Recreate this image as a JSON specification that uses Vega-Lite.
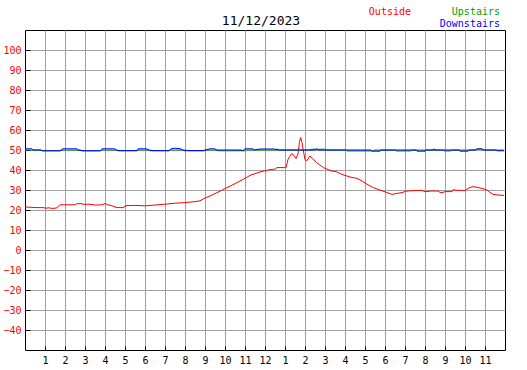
{
  "$schema": "https://vega.github.io/schema/vega-lite/v6.json",
  "width": 480,
  "height": 320,
  "autosize": {"type": "none"},
  "padding": {"left": 25, "top": 30, "right": 22, "bottom": 20},
  "background": "white",
  "title": {"text": "11/12/2023", "frame": "group", "font": "DejaVu Sans Mono", "fontSize": 13, "fontWeight": "normal", "color": "black", "anchor": "middle", "dx": -4, "baseline": "alphabetic", "offset": -31},
  "config": {
    "view": {"stroke": "black", "strokeWidth": 1},
    "axis": {"gridColor": "#a0a0a0", "gridOpacity": 1, "gridWidth": 1, "domain": false, "tickColor": "black", "labelFont": "DejaVu Sans Mono", "labelFontSize": 10, "labelFontWeight": "normal", "title": null, "labelOverlap": false, "labelFlush": false}
  },
  "datasets": {
    "temps": [
      {"h":0,"v":21.5,"s":"Outside"},{"h":0.25,"v":21.4,"s":"Outside"},{"h":0.5,"v":21.2,"s":"Outside"},{"h":0.9,"v":21.2,"s":"Outside"},{"h":1.05,"v":20.9,"s":"Outside"},{"h":1.2,"v":21.1,"s":"Outside"},{"h":1.35,"v":20.8,"s":"Outside"},{"h":1.5,"v":20.9,"s":"Outside"},{"h":1.6,"v":21.1,"s":"Outside"},{"h":1.75,"v":22.6,"s":"Outside"},{"h":2.0,"v":22.6,"s":"Outside"},{"h":2.5,"v":22.6,"s":"Outside"},{"h":2.6,"v":23.2,"s":"Outside"},{"h":2.85,"v":23.2,"s":"Outside"},{"h":2.9,"v":22.8,"s":"Outside"},{"h":3.2,"v":22.9,"s":"Outside"},{"h":3.5,"v":22.5,"s":"Outside"},{"h":3.7,"v":22.5,"s":"Outside"},{"h":3.85,"v":22.6,"s":"Outside"},{"h":4.0,"v":23.2,"s":"Outside"},{"h":4.15,"v":22.6,"s":"Outside"},{"h":4.4,"v":21.9,"s":"Outside"},{"h":4.6,"v":21.2,"s":"Outside"},{"h":4.9,"v":21.2,"s":"Outside"},{"h":5.05,"v":22.2,"s":"Outside"},{"h":5.5,"v":22.3,"s":"Outside"},{"h":6.0,"v":22.1,"s":"Outside"},{"h":6.5,"v":22.5,"s":"Outside"},{"h":7.0,"v":22.9,"s":"Outside"},{"h":7.5,"v":23.4,"s":"Outside"},{"h":8.0,"v":23.7,"s":"Outside"},{"h":8.5,"v":24.2,"s":"Outside"},{"h":8.75,"v":24.6,"s":"Outside"},{"h":9.0,"v":26.0,"s":"Outside"},{"h":9.25,"v":27.0,"s":"Outside"},{"h":9.5,"v":28.2,"s":"Outside"},{"h":9.75,"v":29.4,"s":"Outside"},{"h":10.0,"v":30.7,"s":"Outside"},{"h":10.25,"v":31.9,"s":"Outside"},{"h":10.5,"v":33.2,"s":"Outside"},{"h":10.75,"v":34.5,"s":"Outside"},{"h":11.0,"v":35.8,"s":"Outside"},{"h":11.25,"v":37.3,"s":"Outside"},{"h":11.5,"v":38.2,"s":"Outside"},{"h":11.75,"v":39.0,"s":"Outside"},{"h":12.0,"v":39.6,"s":"Outside"},{"h":12.25,"v":40.2,"s":"Outside"},{"h":12.5,"v":40.4,"s":"Outside"},{"h":12.6,"v":41.2,"s":"Outside"},{"h":13.05,"v":41.2,"s":"Outside"},{"h":13.15,"v":45.3,"s":"Outside"},{"h":13.33,"v":48.2,"s":"Outside"},{"h":13.45,"v":47.3,"s":"Outside"},{"h":13.55,"v":45.7,"s":"Outside"},{"h":13.65,"v":48.0,"s":"Outside"},{"h":13.72,"v":53.7,"s":"Outside"},{"h":13.78,"v":56.3,"s":"Outside"},{"h":13.85,"v":53.7,"s":"Outside"},{"h":13.92,"v":49.5,"s":"Outside"},{"h":14.0,"v":45.3,"s":"Outside"},{"h":14.08,"v":44.5,"s":"Outside"},{"h":14.25,"v":47.0,"s":"Outside"},{"h":14.37,"v":45.7,"s":"Outside"},{"h":14.58,"v":43.7,"s":"Outside"},{"h":14.92,"v":41.2,"s":"Outside"},{"h":15.33,"v":39.5,"s":"Outside"},{"h":15.55,"v":39.2,"s":"Outside"},{"h":15.85,"v":37.8,"s":"Outside"},{"h":16.25,"v":36.5,"s":"Outside"},{"h":16.6,"v":35.8,"s":"Outside"},{"h":16.85,"v":34.5,"s":"Outside"},{"h":17.1,"v":32.9,"s":"Outside"},{"h":17.4,"v":31.2,"s":"Outside"},{"h":17.75,"v":30.0,"s":"Outside"},{"h":18.1,"v":28.7,"s":"Outside"},{"h":18.35,"v":27.8,"s":"Outside"},{"h":18.6,"v":28.3,"s":"Outside"},{"h":18.85,"v":28.7,"s":"Outside"},{"h":19.05,"v":29.4,"s":"Outside"},{"h":19.25,"v":29.6,"s":"Outside"},{"h":19.85,"v":29.8,"s":"Outside"},{"h":20.0,"v":29.2,"s":"Outside"},{"h":20.15,"v":29.2,"s":"Outside"},{"h":20.25,"v":29.5,"s":"Outside"},{"h":20.65,"v":29.5,"s":"Outside"},{"h":20.75,"v":28.8,"s":"Outside"},{"h":20.9,"v":28.8,"s":"Outside"},{"h":21.0,"v":29.2,"s":"Outside"},{"h":21.35,"v":29.2,"s":"Outside"},{"h":21.4,"v":30.1,"s":"Outside"},{"h":21.65,"v":29.8,"s":"Outside"},{"h":22.0,"v":29.8,"s":"Outside"},{"h":22.15,"v":30.8,"s":"Outside"},{"h":22.35,"v":31.6,"s":"Outside"},{"h":22.5,"v":31.6,"s":"Outside"},{"h":22.65,"v":31.2,"s":"Outside"},{"h":22.85,"v":30.8,"s":"Outside"},{"h":23.1,"v":30.0,"s":"Outside"},{"h":23.25,"v":28.8,"s":"Outside"},{"h":23.4,"v":27.8,"s":"Outside"},{"h":23.75,"v":27.4,"s":"Outside"},{"h":23.95,"v":27.3,"s":"Outside"},

      {"h":0,"v":50,"s":"Upstairs"},{"h":0.8,"v":50,"s":"Upstairs"},{"h":0.85,"v":49.6,"s":"Upstairs"},{"h":1.8,"v":49.6,"s":"Upstairs"},{"h":1.85,"v":50,"s":"Upstairs"},{"h":2.8,"v":50,"s":"Upstairs"},{"h":2.85,"v":49.6,"s":"Upstairs"},{"h":3.8,"v":49.6,"s":"Upstairs"},{"h":3.85,"v":50,"s":"Upstairs"},{"h":4.6,"v":50,"s":"Upstairs"},{"h":4.65,"v":49.6,"s":"Upstairs"},{"h":5.6,"v":49.6,"s":"Upstairs"},{"h":5.65,"v":50,"s":"Upstairs"},{"h":6.2,"v":50,"s":"Upstairs"},{"h":6.25,"v":49.6,"s":"Upstairs"},{"h":7.2,"v":49.6,"s":"Upstairs"},{"h":7.25,"v":50,"s":"Upstairs"},{"h":7.9,"v":50,"s":"Upstairs"},{"h":7.95,"v":49.6,"s":"Upstairs"},{"h":9.0,"v":49.6,"s":"Upstairs"},{"h":9.05,"v":50,"s":"Upstairs"},{"h":9.6,"v":50,"s":"Upstairs"},{"h":9.65,"v":49.6,"s":"Upstairs"},{"h":11.0,"v":49.6,"s":"Upstairs"},{"h":11.05,"v":50,"s":"Upstairs"},{"h":14.25,"v":50,"s":"Upstairs"},{"h":14.3,"v":50.4,"s":"Upstairs"},{"h":15.0,"v":50.4,"s":"Upstairs"},{"h":15.05,"v":50,"s":"Upstairs"},{"h":16.05,"v":50,"s":"Upstairs"},{"h":16.1,"v":49.5,"s":"Upstairs"},{"h":17.4,"v":49.5,"s":"Upstairs"},{"h":17.45,"v":50,"s":"Upstairs"},{"h":18.5,"v":50,"s":"Upstairs"},{"h":18.55,"v":49.5,"s":"Upstairs"},{"h":19.3,"v":49.5,"s":"Upstairs"},{"h":19.35,"v":50,"s":"Upstairs"},{"h":20.9,"v":50,"s":"Upstairs"},{"h":20.95,"v":49.5,"s":"Upstairs"},{"h":21.3,"v":49.5,"s":"Upstairs"},{"h":21.35,"v":50,"s":"Upstairs"},{"h":22.5,"v":50,"s":"Upstairs"},{"h":22.55,"v":50.4,"s":"Upstairs"},{"h":22.9,"v":50.4,"s":"Upstairs"},{"h":22.95,"v":50,"s":"Upstairs"},{"h":23.95,"v":50,"s":"Upstairs"},

      {"h":0,"v":50.6,"s":"Downstairs"},{"h":0.35,"v":50.6,"s":"Downstairs"},{"h":0.4,"v":50,"s":"Downstairs"},{"h":0.8,"v":50,"s":"Downstairs"},{"h":0.85,"v":49.6,"s":"Downstairs"},{"h":1.75,"v":49.6,"s":"Downstairs"},{"h":1.8,"v":50,"s":"Downstairs"},{"h":1.9,"v":50.6,"s":"Downstairs"},{"h":2.6,"v":50.6,"s":"Downstairs"},{"h":2.65,"v":50,"s":"Downstairs"},{"h":2.85,"v":49.6,"s":"Downstairs"},{"h":3.75,"v":49.6,"s":"Downstairs"},{"h":3.85,"v":50.6,"s":"Downstairs"},{"h":4.5,"v":50.6,"s":"Downstairs"},{"h":4.55,"v":50,"s":"Downstairs"},{"h":4.7,"v":49.7,"s":"Downstairs"},{"h":5.6,"v":49.7,"s":"Downstairs"},{"h":5.65,"v":50.6,"s":"Downstairs"},{"h":6.1,"v":50.6,"s":"Downstairs"},{"h":6.15,"v":50,"s":"Downstairs"},{"h":6.4,"v":49.7,"s":"Downstairs"},{"h":7.2,"v":49.7,"s":"Downstairs"},{"h":7.3,"v":50.6,"s":"Downstairs"},{"h":7.5,"v":50.9,"s":"Downstairs"},{"h":7.8,"v":50.6,"s":"Downstairs"},{"h":7.85,"v":50,"s":"Downstairs"},{"h":8.25,"v":49.7,"s":"Downstairs"},{"h":8.9,"v":49.7,"s":"Downstairs"},{"h":9.0,"v":50,"s":"Downstairs"},{"h":9.25,"v":50.6,"s":"Downstairs"},{"h":9.5,"v":50.6,"s":"Downstairs"},{"h":9.55,"v":50,"s":"Downstairs"},{"h":10.8,"v":50,"s":"Downstairs"},{"h":10.9,"v":49.7,"s":"Downstairs"},{"h":11.0,"v":50.6,"s":"Downstairs"},{"h":11.4,"v":50.6,"s":"Downstairs"},{"h":11.45,"v":50,"s":"Downstairs"},{"h":11.75,"v":50.5,"s":"Downstairs"},{"h":12.5,"v":50.5,"s":"Downstairs"},{"h":12.55,"v":50,"s":"Downstairs"},{"h":12.6,"v":50.6,"s":"Downstairs"},{"h":12.65,"v":50,"s":"Downstairs"},{"h":14.5,"v":50,"s":"Downstairs"},{"h":14.6,"v":50.6,"s":"Downstairs"},{"h":14.65,"v":50,"s":"Downstairs"},{"h":17.3,"v":50,"s":"Downstairs"},{"h":17.35,"v":49.4,"s":"Downstairs"},{"h":17.75,"v":49.4,"s":"Downstairs"},{"h":17.8,"v":50,"s":"Downstairs"},{"h":19.55,"v":50,"s":"Downstairs"},{"h":19.6,"v":49.4,"s":"Downstairs"},{"h":20.0,"v":49.4,"s":"Downstairs"},{"h":20.05,"v":50,"s":"Downstairs"},{"h":20.4,"v":50,"s":"Downstairs"},{"h":20.45,"v":50.6,"s":"Downstairs"},{"h":20.5,"v":50,"s":"Downstairs"},{"h":21.7,"v":50,"s":"Downstairs"},{"h":21.75,"v":49.4,"s":"Downstairs"},{"h":22.15,"v":49.4,"s":"Downstairs"},{"h":22.2,"v":50,"s":"Downstairs"},{"h":22.55,"v":50,"s":"Downstairs"},{"h":22.6,"v":50.6,"s":"Downstairs"},{"h":22.85,"v":50.6,"s":"Downstairs"},{"h":22.9,"v":50,"s":"Downstairs"},{"h":23.55,"v":50,"s":"Downstairs"},{"h":23.6,"v":49.6,"s":"Downstairs"},{"h":23.95,"v":49.6,"s":"Downstairs"}
    ]
  },
  "layer": [
    {
      "data": {"name": "temps"},
      "mark": {"type": "line", "strokeWidth": 1, "interpolate": "linear"},
      "encoding": {
        "x": {"field": "h", "type": "quantitative", "scale": {"domain": [0, 24], "nice": false, "zero": false},
          "axis": {"values": [1,2,3,4,5,6,7,8,9,10,11,12,13,14,15,16,17,18,19,20,21,22,23], "labelExpr": "datum.value % 12 == 0 ? '12' : '' + (datum.value % 12)", "tickSize": -4, "labelPadding": 9, "labelColor": "black"}},
        "y": {"field": "v", "type": "quantitative", "scale": {"domain": [-50, 110], "nice": false, "zero": false},
          "axis": {"values": [-40,-30,-20,-10,0,10,20,30,40,50,60,70,80,90,100], "tickSize": -5, "labelPadding": 9, "labelColor": "#ff0000"}},
        "color": {"field": "s", "type": "nominal", "sort": null,
          "scale": {"domain": ["Outside", "_", "Upstairs", "Downstairs"], "range": ["#ff0000", "#ffffff", "#00a000", "#0000ff"]},
          "legend": {"orient": "none", "direction": "vertical", "legendX": 376, "legendY": -23.5, "columns": 2, "columnPadding": 28, "rowPadding": 2, "padding": 0,
            "symbolSize": 0, "symbolStrokeWidth": 0, "symbolOpacity": 0, "labelOffset": 0, "title": null, "labelAlign": "right",
            "labelFont": "DejaVu Sans Mono", "labelFontSize": 10,
            "labelExpr": "datum.label == '_' ? '' : datum.label",
            "encode": {"labels": {"update": {"fill": {"scale": "color", "field": "value"}}}}}}
      }
    },
    {
      "mark": {"type": "rule", "color": "black", "strokeWidth": 1, "xOffset": 1},
      "encoding": {
        "x": {"datum": 24, "axis": {"values": [1,2,3,4,5,6,7,8,9,10,11,12,13,14,15,16,17,18,19,20,21,22,23], "labelExpr": "datum.value % 12 == 0 ? '12' : '' + (datum.value % 12)", "tickSize": -4, "labelPadding": 9, "labelColor": "black"}},
        "y": {"datum": -50, "axis": {"values": [-40,-30,-20,-10,0,10,20,30,40,50,60,70,80,90,100], "tickSize": -5, "labelPadding": 9, "labelColor": "#ff0000"}},
        "y2": {"datum": 110}}
    },
    {
      "mark": {"type": "rule", "color": "black", "strokeWidth": 1, "yOffset": 1},
      "encoding": {
        "y": {"datum": -50, "axis": {"values": [-40,-30,-20,-10,0,10,20,30,40,50,60,70,80,90,100], "tickSize": -5, "labelPadding": 9, "labelColor": "#ff0000"}},
        "x": {"datum": 0, "axis": {"values": [1,2,3,4,5,6,7,8,9,10,11,12,13,14,15,16,17,18,19,20,21,22,23], "labelExpr": "datum.value % 12 == 0 ? '12' : '' + (datum.value % 12)", "tickSize": -4, "labelPadding": 9, "labelColor": "black"}},
        "x2": {"datum": 24}}
    },
    {
      "mark": {"type": "rule", "color": "#a0a0a0", "strokeWidth": 2, "xOffset": 2.5, "y2Offset": 3},
      "encoding": {
        "x": {"datum": 24, "axis": {"values": [1,2,3,4,5,6,7,8,9,10,11,12,13,14,15,16,17,18,19,20,21,22,23], "labelExpr": "datum.value % 12 == 0 ? '12' : '' + (datum.value % 12)", "tickSize": -4, "labelPadding": 9, "labelColor": "black"}},
        "y": {"datum": 109, "axis": {"values": [-40,-30,-20,-10,0,10,20,30,40,50,60,70,80,90,100], "tickSize": -5, "labelPadding": 9, "labelColor": "#ff0000"}},
        "y2": {"datum": -50}}
    },
    {
      "mark": {"type": "rule", "color": "#a0a0a0", "strokeWidth": 2, "yOffset": 2.5, "x2Offset": 3},
      "encoding": {
        "y": {"datum": -50, "axis": {"values": [-40,-30,-20,-10,0,10,20,30,40,50,60,70,80,90,100], "tickSize": -5, "labelPadding": 9, "labelColor": "#ff0000"}},
        "x": {"datum": 1.5, "axis": {"values": [1,2,3,4,5,6,7,8,9,10,11,12,13,14,15,16,17,18,19,20,21,22,23], "labelExpr": "datum.value % 12 == 0 ? '12' : '' + (datum.value % 12)", "tickSize": -4, "labelPadding": 9, "labelColor": "black"}},
        "x2": {"datum": 24}}
    }
  ]
}
